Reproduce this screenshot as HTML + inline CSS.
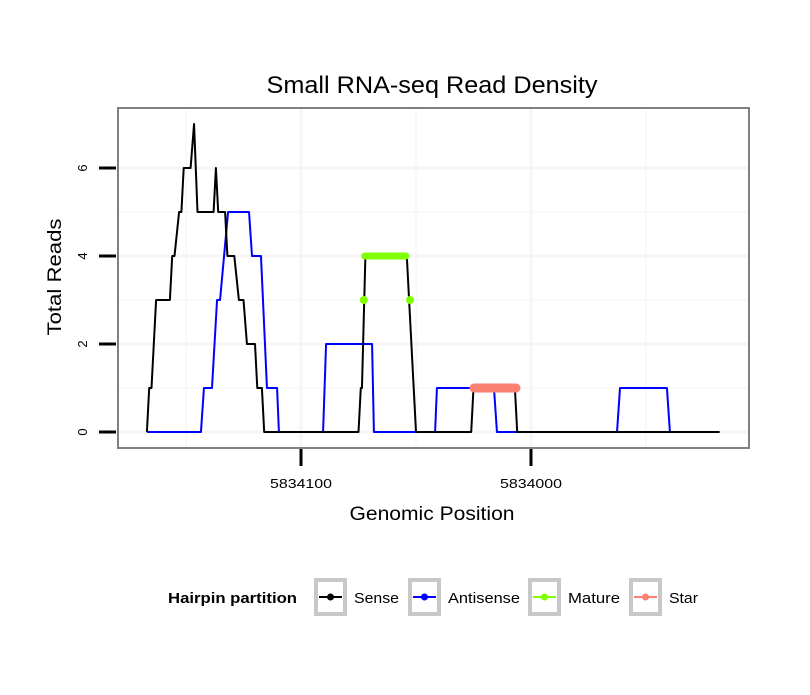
<!DOCTYPE html>
<html><head><meta charset="utf-8"><style>
body{margin:0;background:#fff;font-family:"Liberation Sans",sans-serif}
</style></head><body>
<svg id="c" width="810" height="690" xmlns="http://www.w3.org/2000/svg" font-family="Liberation Sans, sans-serif">
<rect width="810" height="690" fill="#fff"/>
<text x="432" y="93" text-anchor="middle" font-size="24" textLength="331" lengthAdjust="spacingAndGlyphs">Small RNA-seq Read Density</text>
<g id="grid"></g>
<g id="series"></g>
<rect x="118" y="108" width="631" height="340" fill="none" stroke="#808080" stroke-width="2"/>
<g id="axes"></g>
<text transform="translate(61,277) rotate(-90)" text-anchor="middle" font-size="19" textLength="117" lengthAdjust="spacingAndGlyphs">Total Reads</text>
<text x="432" y="520" text-anchor="middle" font-size="19" textLength="165" lengthAdjust="spacingAndGlyphs">Genomic Position</text>
<g>
<text x="168" y="603" font-size="15" font-weight="bold" textLength="129" lengthAdjust="spacingAndGlyphs">Hairpin partition</text>
<g id="legend"></g>
</g>
</svg>
<script>
const yTicks=[0,2,4,6];
const xTicks=[5834100,5834000];
const xTickLabels=["5834100","5834000"];
const senseX=[5834167,5834166,5834165,5834163,5834157,5834156,5834155,5834153,5834152,5834151,5834148,5834146.5,5834145,5834138,5834137,5834136,5834133,5834132,5834129,5834127,5834125,5834123.5,5834120,5834119,5834117,5834116,5834075,5834074,5834073.5,5834072,5834054,5834050,5834026,5834025,5834007,5834006,5833918];
const senseY=[0,1,1,3,3,4,4,5,5,6,6,7,5,5,6,5,5,4,4,3,3,2,2,1,1,0,0,1,1,4,4,0,0,1,1,0,0];
const antiX=[5834167,5834143.5,5834142.2,5834138.7,5834136.5,5834135.2,5834131.7,5834122.6,5834121.3,5834117.4,5834114.8,5834110.4,5834109.6,5834090.4,5834089.1,5834069.1,5834068.3,5834041.7,5834040.9,5834016.1,5834014.8,5833962.6,5833961.3,5833940.9,5833939.6,5833918];
const antiY=[0,0,1,1,3,3,5,5,4,4,1,1,0,0,2,2,0,0,1,1,0,0,1,1,0,0];
const matureX=[5834072.3,5834054.4];
const matureY=[4,4];
const maturePtX=[5834072.7,5834052.6];
const maturePtY=[3,3];
const starX=[5834024.8,5834006.5];
const starY=[1,1];
const legendLabels=["Sense","Antisense","Mature","Star"];
const legendColors=["#000","#0000ff","#7fff00","#fa8072"];

const NS="http://www.w3.org/2000/svg";
const xs=p=>301+(5834100-p)*2.3;
const ys=v=>432-v*44;
function mk(tag,attrs,parent){const e=document.createElementNS(NS,tag);for(const k in attrs)e.setAttribute(k,attrs[k]);parent.appendChild(e);return e;}
const grid=document.getElementById('grid'),ser=document.getElementById('series'),ax=document.getElementById('axes'),lg=document.getElementById('legend');
[1,3,5].forEach(v=>{const l=mk('line',{x1:119,x2:748,y1:ys(v),y2:ys(v),stroke:'#f9f9f9','stroke-width':2},grid);

});
[5834150,5834050,5833950].forEach(p=>{const l=mk('line',{x1:xs(p),x2:xs(p),y1:109,y2:447,stroke:'#f9f9f9','stroke-width':2},grid);

});
yTicks.forEach(v=>{const l=mk('line',{x1:119,x2:748,y1:ys(v),y2:ys(v),stroke:'#f5f5f5','stroke-width':3},grid);


const t=mk('line',{x1:99,x2:116,y1:ys(v),y2:ys(v),stroke:'#000','stroke-width':3},ax);


const tx=mk('text',{transform:`translate(87,${ys(v)}) rotate(-90)`,'text-anchor':'middle','font-size':13},ax);tx.textContent=v;

});
xTicks.forEach((p,i)=>{const l=mk('line',{x1:xs(p),x2:xs(p),y1:109,y2:447,stroke:'#f5f5f5','stroke-width':3},grid);


const t=mk('line',{x1:xs(p),x2:xs(p),y1:449,y2:466,stroke:'#000','stroke-width':3},ax);


const tx=mk('text',{x:xs(p),y:488,'text-anchor':'middle','font-size':13,textLength:62,lengthAdjust:'spacingAndGlyphs'},ax);tx.textContent=xTickLabels[i];

});
function line(X,Y,color,w,name,cap){const pts=X.map((x,i)=>xs(x)+','+ys(Y[i])).join(' ');
const p=mk('polyline',{points:pts,fill:'none',stroke:color,'stroke-width':w,'stroke-linejoin':'round','stroke-linecap':cap||'butt'},ser);

}
line(antiX,antiY,'#0000ff',2,'antisense-line');
line(senseX,senseY,'#000',2,'sense-line');
line(matureX,matureY,'#7fff00',7,'mature-line','round');
maturePtX.forEach((x,i)=>{const c=mk('circle',{cx:xs(x),cy:ys(maturePtY[i]),r:4,fill:'#7fff00'},ser);

});
line(starX,starY,'#fa8072',9,'star-line','round');
const bx=[314,408,528,629];
const tw=[45,72,52,29];
legendLabels.forEach((lab,i)=>{const g=mk('g',{},lg);


mk('rect',{x:bx[i]+2,y:580,width:29,height:34,fill:'#fff',stroke:'#c8c8c8','stroke-width':4},g);
mk('line',{x1:bx[i]+5,x2:bx[i]+28,y1:597,y2:597,stroke:legendColors[i],'stroke-width':2},g);
mk('circle',{cx:bx[i]+16.5,cy:597,r:3.5,fill:legendColors[i]},g);
const t=mk('text',{x:bx[i]+40,y:603,'font-size':15,textLength:tw[i],lengthAdjust:'spacingAndGlyphs'},g);t.textContent=lab;});
</script>
</body></html>
